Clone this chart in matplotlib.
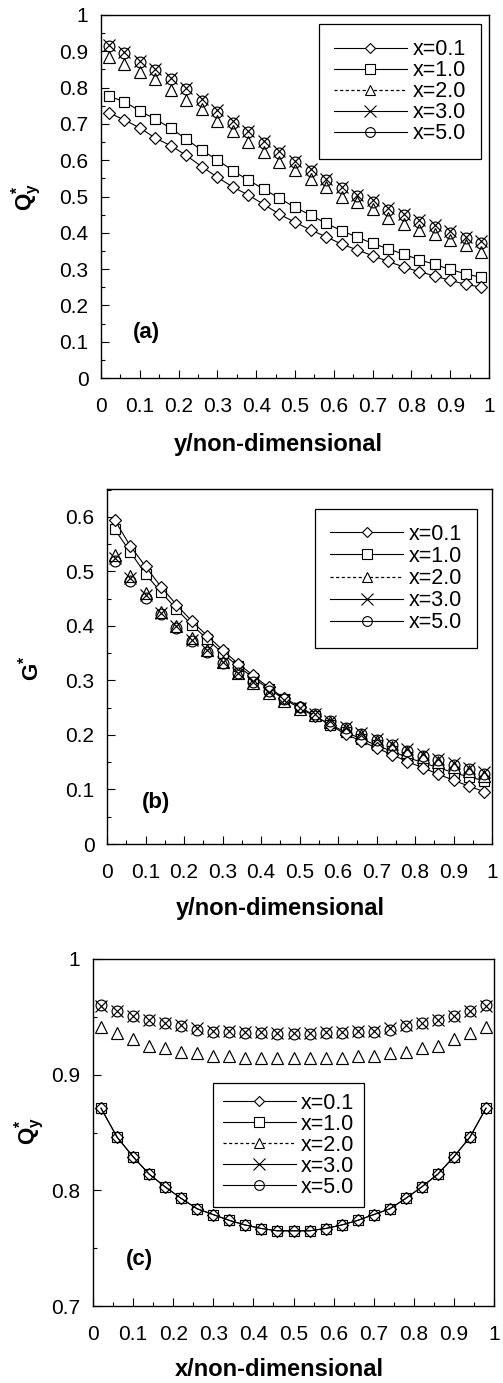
import matplotlib
matplotlib.use('Agg')
import matplotlib.pyplot as plt
from matplotlib.ticker import MultipleLocator
from matplotlib.lines import Line2D

plt.rcParams['font.family'] = ['Liberation Sans', 'DejaVu Sans']
plt.rcParams['mathtext.fontset'] = 'custom'
plt.rcParams['mathtext.rm'] = 'Liberation Sans'
plt.rcParams['mathtext.bf'] = 'Liberation Sans:bold'
plt.rcParams['mathtext.it'] = 'Liberation Sans:italic'

# ---------------- data ----------------
grid = [0.02, 0.06, 0.10, 0.14, 0.18, 0.22, 0.26, 0.30, 0.34, 0.38, 0.42, 0.46, 0.50,
        0.54, 0.58, 0.62, 0.66, 0.70, 0.74, 0.78, 0.82, 0.86, 0.90, 0.94, 0.98]
series_labels = ['x=0.1', 'x=1.0', 'x=2.0', 'x=3.0', 'x=5.0']

# panel (a): Qy* vs y
qa_01 = [0.731, 0.711, 0.689, 0.661, 0.640, 0.613, 0.582, 0.553, 0.526, 0.504, 0.478, 0.451,
         0.429, 0.408, 0.389, 0.369, 0.353, 0.337, 0.321, 0.306, 0.293, 0.281, 0.269, 0.258, 0.250]
qa_10 = [0.777, 0.761, 0.736, 0.713, 0.688, 0.658, 0.627, 0.601, 0.571, 0.545, 0.520, 0.495,
         0.470, 0.449, 0.426, 0.406, 0.388, 0.371, 0.356, 0.341, 0.326, 0.313, 0.299, 0.287, 0.277]
qa_20 = [0.885, 0.865, 0.844, 0.823, 0.793, 0.766, 0.741, 0.707, 0.680, 0.649, 0.622, 0.594,
         0.573, 0.548, 0.525, 0.500, 0.486, 0.465, 0.441, 0.424, 0.408, 0.396, 0.381, 0.366, 0.346]
qa_30 = [0.918, 0.899, 0.874, 0.851, 0.826, 0.798, 0.768, 0.737, 0.707, 0.681, 0.652, 0.625,
         0.598, 0.575, 0.549, 0.527, 0.505, 0.490, 0.467, 0.453, 0.435, 0.421, 0.404, 0.389, 0.377]
qa_50 = [0.915, 0.896, 0.871, 0.848, 0.823, 0.795, 0.764, 0.734, 0.703, 0.677, 0.648, 0.621,
         0.594, 0.571, 0.545, 0.523, 0.501, 0.486, 0.463, 0.449, 0.431, 0.417, 0.400, 0.385, 0.373]

# panel (b): G* vs y
gb_01 = [0.594, 0.547, 0.509, 0.472, 0.439, 0.409, 0.382, 0.356, 0.331, 0.309, 0.287, 0.268,
         0.252, 0.235, 0.218, 0.201, 0.189, 0.176, 0.164, 0.151, 0.140, 0.128, 0.117, 0.106, 0.096]
gb_10 = [0.577, 0.536, 0.495, 0.462, 0.431, 0.402, 0.376, 0.350, 0.326, 0.305, 0.284, 0.266,
         0.249, 0.234, 0.219, 0.205, 0.193, 0.181, 0.170, 0.159, 0.149, 0.140, 0.131, 0.123, 0.116]
gb_20 = [0.530, 0.492, 0.460, 0.426, 0.400, 0.377, 0.356, 0.333, 0.313, 0.295, 0.277, 0.262,
         0.248, 0.236, 0.223, 0.210, 0.199, 0.188, 0.178, 0.168, 0.159, 0.150, 0.141, 0.133, 0.125]
gb_30 = [0.525, 0.488, 0.456, 0.423, 0.399, 0.375, 0.355, 0.333, 0.314, 0.297, 0.279, 0.264,
         0.250, 0.238, 0.226, 0.214, 0.203, 0.193, 0.183, 0.174, 0.165, 0.156, 0.148, 0.140, 0.132]
gb_50 = [0.519, 0.483, 0.451, 0.421, 0.397, 0.373, 0.353, 0.332, 0.314, 0.297, 0.280, 0.265,
         0.251, 0.238, 0.225, 0.213, 0.202, 0.191, 0.181, 0.171, 0.162, 0.154, 0.145, 0.137, 0.129]

# panel (c): Qy* vs x
qc_01 = [0.871, 0.846, 0.829, 0.814, 0.803, 0.793, 0.784, 0.779, 0.774, 0.770, 0.767, 0.765,
         0.765, 0.765, 0.767, 0.770, 0.774, 0.779, 0.784, 0.793, 0.803, 0.814, 0.829, 0.846, 0.871]
qc_10 = [0.871, 0.846, 0.829, 0.814, 0.803, 0.793, 0.784, 0.779, 0.774, 0.770, 0.767, 0.765,
         0.765, 0.765, 0.767, 0.770, 0.774, 0.779, 0.784, 0.793, 0.803, 0.814, 0.829, 0.846, 0.871]
qc_20 = [0.941, 0.936, 0.931, 0.925, 0.923, 0.920, 0.919, 0.916, 0.916, 0.914, 0.914, 0.914,
         0.914, 0.914, 0.914, 0.914, 0.916, 0.916, 0.919, 0.920, 0.923, 0.925, 0.931, 0.936, 0.941]
qc_30 = [0.959, 0.955, 0.951, 0.947, 0.945, 0.943, 0.940, 0.938, 0.938, 0.937, 0.937, 0.936,
         0.936, 0.936, 0.937, 0.937, 0.938, 0.938, 0.940, 0.943, 0.945, 0.947, 0.951, 0.955, 0.959]
qc_50 = [0.960, 0.955, 0.951, 0.947, 0.945, 0.942, 0.939, 0.937, 0.937, 0.936, 0.936, 0.935,
         0.935, 0.935, 0.936, 0.936, 0.937, 0.937, 0.939, 0.942, 0.945, 0.947, 0.951, 0.955, 0.960]

x_ticks = [0, 0.1, 0.2, 0.3, 0.4, 0.5, 0.6, 0.7, 0.8, 0.9, 1]
x_ticklabels = ['0', '0.1', '0.2', '0.3', '0.4', '0.5', '0.6', '0.7', '0.8', '0.9', '1']
ya_ticks = [0, 0.1, 0.2, 0.3, 0.4, 0.5, 0.6, 0.7, 0.8, 0.9, 1]
ya_ticklabels = ['0', '0.1', '0.2', '0.3', '0.4', '0.5', '0.6', '0.7', '0.8', '0.9', '1']
yb_ticks = [0, 0.1, 0.2, 0.3, 0.4, 0.5, 0.6]
yb_ticklabels = ['0', '0.1', '0.2', '0.3', '0.4', '0.5', '0.6']
yc_ticks = [0.7, 0.8, 0.9, 1]
yc_ticklabels = ['0.7', '0.8', '0.9', '1']

# ---------------- figure ----------------
W, H = 503, 1383
fig = plt.figure(figsize=(W / 100, H / 100), dpi=100)


def rect(l, r, t, b):
    return [l / W, 1 - b / H, (r - l) / W, (b - t) / H]


axA = fig.add_axes(rect(101, 489, 15, 378))
axB = fig.add_axes(rect(107, 492, 489, 844))
axC = fig.add_axes(rect(93, 494, 959, 1306))

styles = [
    dict(marker='D', ms=5.8, ls='-', mfc='white'),
    dict(marker='s', ms=7.4, ls='-', mfc='white'),
    dict(marker='^', ms=8.4, ls='none', mfc='white'),
    dict(marker='x', ms=8.8, ls='none', mfc='none'),
    dict(marker='o', ms=7.8, ls='none', mfc='none'),
]
leg_ls = ['-', '-', (0, (2.5, 2.0)), '-', '-']


def draw(ax, series, fills):
    for vals, st, fc, z in zip(series, styles, fills, [3.2, 3.0, 3.1, 3.3, 3.4]):
        kw = dict(st)
        kw['mfc'] = fc
        ax.plot(grid, vals, color='black', lw=0.8, mec='black', mew=0.85, zorder=z, **kw)


draw(axA, [qa_01, qa_10, qa_20, qa_30, qa_50], ['white', 'white', 'white', 'none', 'none'])
draw(axB, [gb_01, gb_10, gb_20, gb_30, gb_50], ['white', 'white', 'white', 'none', 'none'])
draw(axC, [qc_01, qc_10, qc_20, qc_30, qc_50], ['none', 'none', 'white', 'none', 'none'])

handles = [Line2D([], [], color='black', lw=0.9 if i == 2 else 0.8, ls=ls, marker=st['marker'],
                  ms=st['ms'] * 0.9, mfc='white' if st['mfc'] == 'white' else 'none',
                  mec='black', mew=0.8)
           for i, (st, ls) in enumerate(zip(styles, leg_ls))]

for ax, yt, ytl, ylim in [(axA, ya_ticks, ya_ticklabels, (0, 1)),
                          (axB, yb_ticks, yb_ticklabels, (0, 0.651)),
                          (axC, yc_ticks, yc_ticklabels, (0.7, 1.0))]:
    ax.set_xlim(0, 1)
    ax.set_ylim(*ylim)
    ax.set_xticks(x_ticks)
    ax.set_xticklabels(x_ticklabels)
    ax.set_yticks(yt)
    ax.set_yticklabels(ytl)
    ax.xaxis.set_minor_locator(MultipleLocator(0.05))
    ax.yaxis.set_minor_locator(MultipleLocator(0.05))
    ax.tick_params(which='both', direction='in', top=False, right=False, width=0.8,
                   labelsize=15)
    ax.tick_params(which='major', length=5.5)
    ax.tick_params(which='minor', length=3)
    ax.tick_params(axis='x', pad=14)
    ax.tick_params(axis='y', pad=9)
    for s in ax.spines.values():
        s.set_linewidth(1.0)

legkw = dict(handles=handles, labels=series_labels, fontsize=15.5, frameon=True,
             fancybox=False, edgecolor='black', framealpha=1, borderaxespad=0,
             handlelength=3.4, handletextpad=0.25, borderpad=0.7)
lgA = axA.legend(loc='upper right', bbox_to_anchor=(0.979, 0.975), labelspacing=0.0, **legkw)
lgB = axB.legend(loc='upper right', bbox_to_anchor=(0.961, 0.944), labelspacing=0.05, **legkw)
lgC = axC.legend(loc='upper left', bbox_to_anchor=(0.299, 0.643), labelspacing=0.0,
                 **{**legkw, 'borderpad': 0.45})
for lg in (lgA, lgB, lgC):
    lg.get_frame().set_linewidth(0.9)

axA.text(0.082, 0.124, '(a)', transform=axA.transAxes, fontsize=16, fontweight='bold',
         ha='left', va='center')
axB.text(0.091, 0.118, '(b)', transform=axB.transAxes, fontsize=16, fontweight='bold',
         ha='left', va='center')
axC.text(0.082, 0.1326, '(c)', transform=axC.transAxes, fontsize=16, fontweight='bold',
         ha='left', va='center')

lab_kw = dict(fontsize=17, fontweight='bold', ha='center', va='center')
fig.text(278 / W, 1 - 445 / H, 'y/non-dimensional', **lab_kw)
fig.text(280 / W, 1 - 909 / H, 'y/non-dimensional', **lab_kw)
fig.text(279 / W, 1 - 1370 / H, 'x/non-dimensional', **lab_kw)

ylab_kw = dict(fontsize=16, rotation=90, ha='center', va='center')
fig.text(27 / W, 1 - 197 / H, r'$\mathbf{Q}_{\mathbf{y}}^{\mathbf{*}}$', **ylab_kw)
fig.text(31 / W, 1 - 668 / H, r'$\mathbf{G}^{\mathbf{*}}$', **ylab_kw)
fig.text(30 / W, 1 - 1131 / H, r'$\mathbf{Q}_{\mathbf{y}}^{\mathbf{*}}$', **ylab_kw)

fig.savefig('out.png', dpi=100)
